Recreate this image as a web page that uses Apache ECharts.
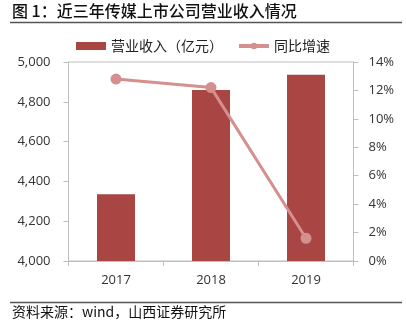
<!DOCTYPE html>
<html>
<head>
<meta charset="utf-8">
<script src="https://cdn.jsdelivr.net/npm/echarts@6/dist/echarts.min.js"></script>
<style>
html, body { margin: 0; padding: 0; background: #fff; }
#chart { width: 406px; height: 326px; }
</style>
</head>
<body>
<div id="chart"></div>
<script>
// Revenue of listed media companies, 2017–2019
const years = ['2017', '2018', '2019'];
const revenue = [4335, 4859, 4936];      // 营业收入（亿元）
const growth = [12.8, 12.2, 1.6];        // 同比增速 (%)
const revenueTicks = { min: 4000, max: 5000, interval: 200 };
const growthTicks = { min: 0, max: 14, interval: 2 };

const barColor = '#A94543';
const lineColor = '#D48F8E';
const axisGray = '#BFBFBF';
const labelColor = '#333';
const cjk = '"Noto Sans CJK SC", sans-serif';

const chart = echarts.init(document.getElementById('chart'), null, { renderer: 'canvas' });

chart.setOption({
  animation: false,
  backgroundColor: '#fff',
  textStyle: { fontFamily: cjk },
  graphic: [
    {
      type: 'text', left: 12, top: 3,
      style: { text: '图 1：近三年传媒上市公司营业收入情况', font: '500 16px ' + cjk, fill: '#111' }
    },
    {
      type: 'line', shape: { x1: 10, y1: 22.5, x2: 402, y2: 22.5 },
      style: { stroke: '#555', lineWidth: 1.5 }
    },
    {
      type: 'line', shape: { x1: 10, y1: 302.5, x2: 402, y2: 302.5 },
      style: { stroke: '#555', lineWidth: 1.5 }
    },
    {
      type: 'text', left: 12, top: 305,
      style: { text: '资料来源：wind，山西证券研究所', font: '14px ' + cjk, fill: '#111' }
    }
  ],
  legend: {
    top: 34, left: 'center',
    itemGap: 14,
    textStyle: { fontSize: 14, color: '#222', fontFamily: cjk },
    data: [
      { name: '营业收入（亿元）', icon: 'rect', itemStyle: { color: barColor } },
      { name: '同比增速', lineStyle: { width: 4, color: lineColor } }
    ],
    itemWidth: 30, itemHeight: 8
  },
  grid: {
    left: 68.5, right: 52.5, top: 62, bottom: 65,
    show: true, borderColor: axisGray, borderWidth: 1
  },
  xAxis: {
    type: 'category',
    data: years,
    axisLine: { lineStyle: { color: axisGray, width: 1 } },
    axisTick: { show: true, length: 5, lineStyle: { color: axisGray } },
    axisLabel: { color: labelColor, fontSize: 13, margin: 13, fontFamily: '"Open Sans", sans-serif' }
  },
  yAxis: [
    {
      type: 'value',
      min: revenueTicks.min, max: revenueTicks.max, interval: revenueTicks.interval,
      splitLine: { show: false },
      axisLine: { show: true, lineStyle: { color: axisGray } },
      axisTick: { show: true, length: 5, lineStyle: { color: axisGray } },
      axisLabel: {
        color: labelColor, fontSize: 13, margin: 18, fontFamily: '"Open Sans", sans-serif',
        formatter: v => v.toLocaleString('en-US')
      }
    },
    {
      type: 'value',
      min: growthTicks.min, max: growthTicks.max, interval: growthTicks.interval,
      splitLine: { show: false },
      axisLine: { show: true, lineStyle: { color: axisGray } },
      axisTick: { show: true, length: 5, lineStyle: { color: axisGray } },
      axisLabel: {
        color: labelColor, fontSize: 13, margin: 15, fontFamily: '"Open Sans", sans-serif',
        formatter: v => v + '%'
      }
    }
  ],
  series: [
    {
      name: '营业收入（亿元）',
      type: 'bar',
      data: revenue,
      barWidth: '40%',
      itemStyle: { color: barColor }
    },
    {
      name: '同比增速',
      type: 'line',
      yAxisIndex: 1,
      data: growth,
      symbol: 'circle',
      symbolSize: 11,
      lineStyle: { color: lineColor, width: 3 },
      itemStyle: { color: lineColor }
    }
  ]
});
</script>
</body>
</html>
